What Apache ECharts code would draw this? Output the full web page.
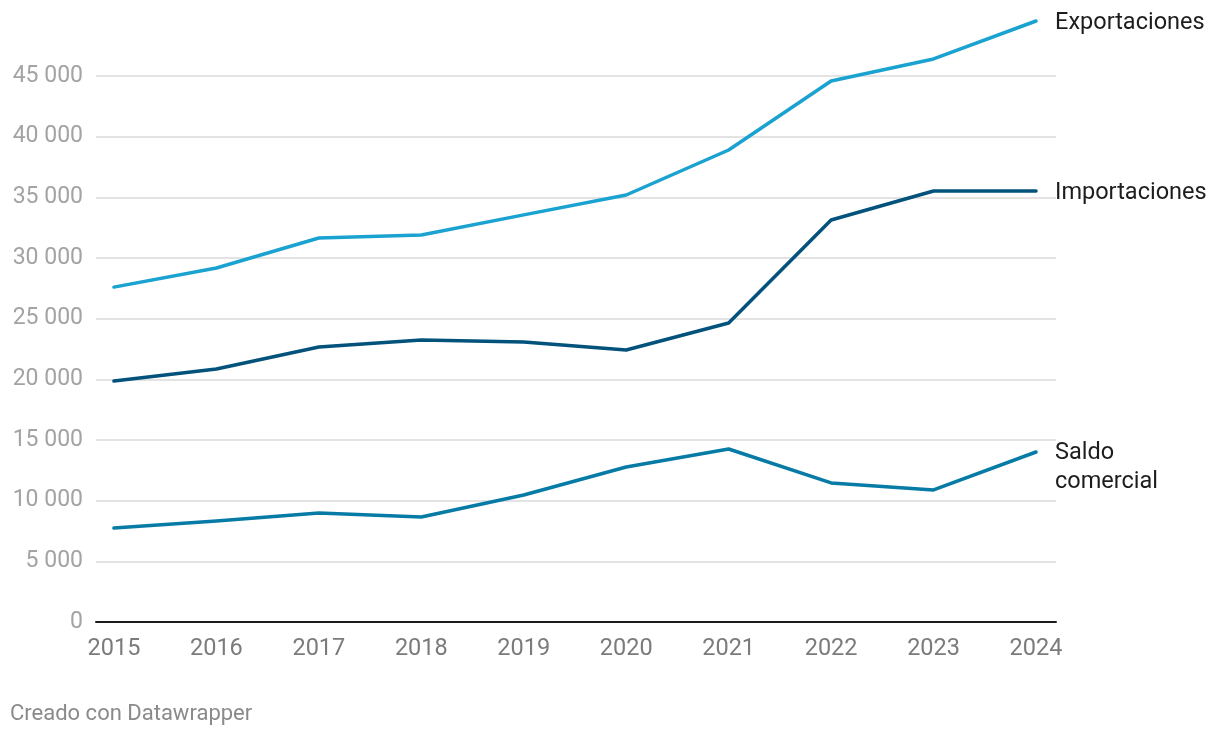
<!DOCTYPE html>
<html><head><meta charset="utf-8">
<script src="https://cdn.jsdelivr.net/npm/echarts@6/dist/echarts.min.js"></script>
<style>html,body{margin:0;padding:0;background:#fff}#c{width:1220px;height:738px}</style>
</head><body><div id="c"></div>
<script>
const years = [2015, 2016, 2017, 2018, 2019, 2020, 2021, 2022, 2023, 2024];
const exportaciones = [27600, 29170, 31650, 31900, 33550, 35190, 38900, 44590, 46400, 49530];
const importaciones = [19860, 20850, 22660, 23240, 23080, 22420, 24640, 33130, 35520, 35520];
const saldo = [7740, 8320, 8990, 8660, 10470, 12770, 14260, 11460, 10880, 14010];
const yTicks = [0, 5000, 10000, 15000, 20000, 25000, 30000, 35000, 40000, 45000];

const chart = echarts.init(document.getElementById('c'), null, {renderer: 'canvas'});
const font = 'Roboto';
function pairs(v) { return years.map((y, i) => [y, v[i]]); }
const gridColors = yTicks.map(() => '#e3e3e3').concat(['rgba(0,0,0,0)']);
function mk(name, data, color, label, offset) {
  return {
    name, type: 'line', data: pairs(data), symbol: 'none', smooth: false,
    lineStyle: {color, width: 3.5, cap: 'round', join: 'round'},
    endLabel: {show: true, formatter: label, distance: 19, offset: offset || [0, 2],
      color: '#1d1d1d', fontFamily: font, fontSize: 23.5, lineHeight: 29, align: 'left'},
    z: 3
  };
}
chart.setOption({
  animation: false,
  textStyle: {fontFamily: font},
  grid: {left: 96, right: 164, top: 15.3, height: 606.7, containLabel: false},
  xAxis: {
    type: 'value', min: 2014.825, max: 2024.195,
    axisLine: {show: true, onZero: false, lineStyle: {color: '#1a1a1a', width: 2}},
    axisTick: {show: false},
    splitLine: {show: false},
    axisLabel: {customValues: years, color: '#7b7b7b', fontSize: 23.5, margin: 15, fontFamily: font,
      formatter: v => String(v)}
  },
  yAxis: {
    type: 'value', min: 0, max: 50000, interval: 5000,
    axisLine: {show: false}, axisTick: {show: false},
    splitLine: {show: true, lineStyle: {color: gridColors, width: 2}},
    axisLabel: {color: '#a3a3a3', fontSize: 23, margin: 13, fontFamily: font,
      formatter: v => v >= 50000 ? '' : String(v).replace(/\B(?=(\d{3})+(?!\d))/g, ' ')}
  },
  graphic: [{type: 'text', left: 10, top: 703,
    style: {text: 'Creado con Datawrapper', fill: '#8a8a8a', font: '22px Roboto'}}],
  series: [
    mk('Exportaciones', exportaciones, '#1aa2d0', 'Exportaciones'),
    mk('Importaciones', importaciones, '#02527b', 'Importaciones'),
    mk('Saldo comercial', saldo, '#067ba5', 'Saldo\ncomercial', [0, 16])
  ]
});
</script></body></html>
